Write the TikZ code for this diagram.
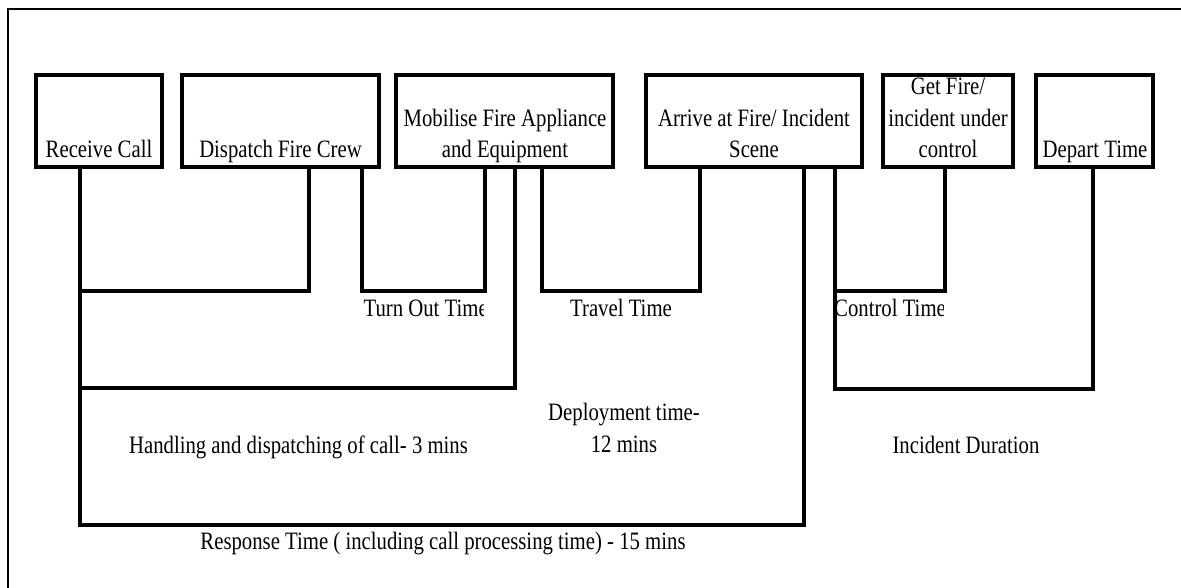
\documentclass[tikz,border=0pt]{standalone}
\usepackage{fontspec}
\setmainfont[FakeStretch=0.83]{Liberation Serif}
\begin{document}
\begin{tikzpicture}[x=1pt,y=-1pt,
  box/.style={draw,line width=3.3pt,minimum height=92pt,inner sep=0pt,outer sep=0pt},
  conn/.style={line width=3.3pt,line join=miter},
  lbl/.style={inner sep=0pt,outer sep=0pt,font=\fontsize{25}{31.7}\selectfont,align=center,anchor=base}]
\useasboundingbox (0,0) rectangle (1181,588);
% outer frame (only top and left edges visible)
\coordinate (frTR) at (1200,9);
\coordinate (frTL) at (8,9);
\coordinate (frBL) at (8,600);
\draw[line width=2.8pt,line join=miter] (frTR) -- (frTL) -- (frBL);

% boxes
\node[box,minimum width=126pt] (rc)  at (99,121) {};
\node[box,minimum width=197pt] (dc)  at (280.5,121) {};
\node[box,minimum width=217pt] (mob) at (504.5,121) {};
\node[box,minimum width=216pt] (arr) at (754,121) {};
\node[box,minimum width=130pt] (get) at (948,121) {};
\node[box,minimum width=117pt] (dep) at (1094.5,121) {};

% box texts (base = baseline of last line)
\node[lbl] (trc)  at (99,158) {Receive Call};
\node[lbl] (tdc)  at (280.5,158) {Dispatch Fire Crew};
\node[lbl] (tmob) at (505,158) {Mobilise Fire Appliance\\and Equipment};
\node[lbl] (tarr) at (754,158) {Arrive at Fire/ Incident\\Scene};
\node[lbl] (tget) at (948,158) {Get Fire/\\incident under\\control};
\node[lbl] (tdep) at (1095,158) {Depart Time};

% loop corners
\coordinate (hA) at (309,291);
\coordinate (hT) at (485,291);
\coordinate (hD) at (515,388);
\coordinate (hV) at (700,291);
\coordinate (hR) at (804,525);
\coordinate (hC) at (945,291);
\coordinate (hI) at (1093,389);

% connectors
\draw[conn] (rc.south -| 80,0) |- (hA) -- (dc.south -| hA);
\draw[conn] (dc.south -| 362,0) |- (hT) -- (mob.south -| hT);
\draw[conn] (rc.south -| 80,0) |- (hD) -- (mob.south -| hD);
\draw[conn] (mob.south -| 542,0) |- (hV) -- (arr.south -| hV);
\draw[conn] (rc.south -| 80,0) |- (hR) -- (arr.south -| hR);
\draw[conn] (arr.south -| 835,0) |- (hC) -- (get.south -| hC);
\draw[conn] (arr.south -| 835,0) |- (hI) -- (dep.south -| hI);

% interval labels
\begin{scope}
  \clip (363.6,295) rectangle (483.4,330);
  \node[lbl,anchor=base west] (tto) at (363.6,316.5) {Turn Out Time};
\end{scope}
\node[lbl] (ttr) at (621,316.5) {Travel Time};
\begin{scope}
  \clip (836.6,295) rectangle (943.4,330);
  \node[lbl] (tct) at (890,316.5) {Control Time};
\end{scope}
\node[lbl] (thd) at (298.5,453) {Handling and dispatching of call- 3 mins};
\node[lbl] (tdp) at (624,452) {Deployment time-\\12 mins};
\node[lbl] (tid) at (966,453) {Incident Duration};
\node[lbl] (trs) at (443,549) {Response Time ( including call processing time) - 15 mins};
\end{tikzpicture}
\end{document}
